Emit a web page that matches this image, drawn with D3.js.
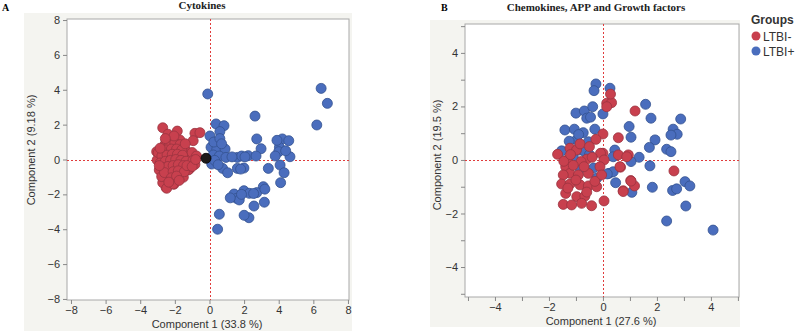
<!DOCTYPE html>
<html>
<head>
<meta charset="utf-8">
<script src="https://cdn.jsdelivr.net/npm/d3@7"></script>
<style>
  body { margin: 0; background: #fff; }
</style>
</head>
<body>
<div id="chart"></div>
<script>
// PCA scores, panel A (cytokines)
var redA = [[-2.7,1.82],[-1.86,1.63],[-0.84,1.5],[-0.55,1.54],[-0.94,1.08],[-1.71,1.12],[-2.28,1.21],
  [-2.51,1.02],[-3.05,0.45],[-3.02,-0.03],[-2.9,-0.6],[-2.67,-1.08],[-2.51,-1.6],[-2.05,-1.42],
  [-1.51,-1.02],[-1.17,-0.56],[-0.84,-0.28],[-1.09,0.13],[-1.36,0.51],[-2.32,-0.7],[-2.38,-1.02],
  [-2.7,-1.33],[-2.96,0.39],[-2.76,-0.98],[-2.47,-1.65],[-2.09,-1.4],[-1.23,-0.6],
  [-2.6,0.8],[-2.3,0.9],[-2.0,0.95],[-1.7,0.85],[-2.5,0.55],[-2.2,0.6],[-1.9,0.6],[-1.6,0.55],
  [-2.75,0.2],[-2.45,0.25],[-2.15,0.3],[-1.85,0.3],[-1.55,0.25],[-2.85,-0.2],[-2.55,-0.1],
  [-2.25,-0.05],[-1.95,0.0],[-1.65,-0.05],[-1.35,-0.1],[-2.7,-0.45],[-2.4,-0.4],[-2.1,-0.35],
  [-1.8,-0.3],[-1.5,-0.35],[-2.6,-0.75],[-2.1,-0.7],[-1.8,-0.65],[-1.45,-0.7],[-2.2,-1.05],
  [-1.9,-0.95],[-2.35,-1.3],[-1.75,-1.2],[-2.4,1.45],[-2.05,1.35],[-1.4,0.9],[-1.0,0.4],
  [-0.75,0.2],[-0.95,-0.05],[-2.85,0.65],[-2.9,-0.35],[-1.3,-0.35],[-1.0,-0.4],[-0.8,0.0],[-2.55,1.2]];
var blueA = [[-0.1,3.76],[6.45,4.08],[6.81,3.22],[6.2,1.98],[2.63,2.49],[0.38,2.04],[0.84,1.94],
  [0.6,1.6],[0.03,1.35],[2.73,1.18],[4.21,1.18],[4.58,1.08],[2.98,0.62],[4.04,0.7],[4.0,0.45],
  [4.65,0.16],[3.8,0.2],[0.09,0.7],[0.42,0.58],[0.9,0.6],[0.22,0.26],[0.57,0.2],[0.95,0.12],
  [1.61,0.12],[1.86,0.2],[2.24,0.22],[2.69,0.2],[0.13,-0.26],[0.76,-0.51],[1.05,-0.76],
  [1.61,-0.51],[1.99,-0.49],[3.4,-0.51],[4.08,-0.32],[4.31,-0.76],[4.11,-1.33],[3.11,-1.56],
  [1.42,-1.98],[1.57,-2.23],[1.99,-1.79],[2.3,-1.94],[2.73,-1.9],[1.72,-2.32],[2.57,-2.67],
  [3.17,-2.45],[0.57,-3.14],[2.28,-3.34],[0.47,-4.0],
  [0.25,1.0],[0.6,1.2],[0.3,-0.05],[0.7,0.9],[1.8,-0.55],[1.3,0.15],[2.05,0.15],[3.2,-1.7],
  [1.85,-2.0],[2.55,-1.95],[4.4,0.5],[3.9,1.1],[0.5,-0.3],[1.2,-2.2],[2.0,-3.2]];
var darkA = [[-0.2,0.07]];

// PCA scores, panel B (chemokines, APP, growth factors)
var redB = [[1.19,1.83],[0.57,0.83],[0.94,0.19],[0.57,0.19],[0.65,-0.27],[2.63,-0.41],[1.03,-0.77],
  [1.17,-0.97],[0.75,-1.15],[0.04,-1.53],[0,0.97],[0,0.25],[0.14,2.12],[0.32,2.14],[0.28,2.46],
  [0.14,1.99],[-0.26,0.77],[-1.22,0.44],[-1.68,0.21],[-0.98,0.37],[-0.09,0.25],[0.04,0],
  [-0.6,0.03],[-0.81,-0.06],[-1.32,0],[-1.38,-0.25],[-1.22,-0.5],[-1.47,-0.56],[-0.91,-0.56],
  [-0.54,-0.5],[-0.11,-0.25],[-0.05,-0.56],[0.88,0.12],[0.63,-0.25],[-1.53,-0.9],[-1.22,-0.9],
  [-0.85,-0.93],[-0.54,-0.97],[-0.23,-1.0],[-1.38,-1.25],[-0.97,-1.37],[-0.67,-1.35],
  [-1.47,-1.66],[-1.16,-1.68],[-0.79,-1.62],[-0.42,-1.71],[0.75,-1.18],[1.04,-0.79],
  [-1.1,-0.2],[-0.7,-0.25],[-0.4,0.1],[-1.0,-0.75],[-1.3,-1.05],[-0.3,-0.8],[-0.6,-1.2],
  [-1.45,-0.05],[-0.85,0.6],[-0.5,0.5],[-1.2,0.2]];
var blueB = [[-0.26,2.84],[-0.33,2.59],[0.26,2.68],[1.58,2.08],[1.78,1.56],[-1.0,1.75],[-0.69,1.83],
  [-0.38,1.99],[-0.6,1.56],[-0.46,1.6],[0,1.72],[-1.41,1.12],[-1.06,1.15],[-0.73,1.02],[-0.3,1.15],
  [0.97,1.25],[1.04,0.85],[1.93,0.75],[1.72,0.47],[2.36,0.4],[-1.53,0.34],[-0.97,0.75],
  [-0.54,0.68],[0.44,0.37],[0.38,0.12],[1.34,0.1],[1.04,-0.06],[1.74,-0.22],[0.23,-0.5],
  [-0.23,-0.68],[0.47,-0.85],[1.83,-1.02],[1.07,-1.21],[-0.85,0.37],[2.88,1.53],[2.6,1.15],
  [2.75,0.96],[2.52,0.93],[2.52,0.31],[0.38,-0.44],[0.16,-0.52],[2.58,-1.14],[2.73,-1.08],
  [3.04,-0.81],[3.22,-0.97],[3.07,-1.72],[2.36,-2.28],[4.08,-2.62],
  [-1.1,0.12],[-0.67,0.31],[-0.85,-0.31],[-1.25,0.7],[-0.9,0.95],[-0.5,0.2],[-0.35,-0.3]];

var ticksA = [-8, -6, -4, -2, 0, 2, 4, 6, 8];
var ticksB = [-4, -2, 0, 2, 4];
var minorB = [-5, -3, -1, 1, 3, 5];
var groups = ["LTBI-", "LTBI+"];

var colors = {red: "#c8404e", blue: "#4a6dbd", dark: "#1e1a1a"};
var strokes = {red: "#9a3440", blue: "#34528f", dark: "#000"};
var sans = "'Liberation Sans', Arial, sans-serif";
var serif = "'Liberation Serif', 'Times New Roman', serif";

var svg = d3.select("#chart").append("svg")
    .attr("width", 796)
    .attr("height", 331);

function panel(opt) {
  var g = svg.append("g");

  // gray JMP-style backdrop
  g.append("rect")
      .attr("x", opt.bg[0]).attr("y", opt.bg[1])
      .attr("width", opt.bg[2]).attr("height", opt.bg[3])
      .attr("fill", "#f4f4f0");

  var x = d3.scaleLinear().domain(opt.xd).range([opt.l, opt.r]);
  var y = d3.scaleLinear().domain(opt.yd).range([opt.b, opt.t]);

  g.append("rect")
      .attr("x", opt.l).attr("y", opt.t)
      .attr("width", opt.r - opt.l).attr("height", opt.b - opt.t)
      .attr("fill", "#fff")
      .attr("stroke", "#a8a8a8");

  var axes = g.append("g");
  axes.append("g")
      .attr("transform", "translate(0," + opt.b + ")")
      .call(d3.axisBottom(x).tickValues(opt.ticks).tickSize(4).tickPadding(2)
        .tickFormat(d3.format("d")));
  axes.append("g")
      .attr("transform", "translate(" + opt.l + ",0)")
      .call(d3.axisLeft(y).tickValues(opt.ticks).tickSize(4).tickPadding(3)
        .tickFormat(d3.format("d")));
  if (opt.minor) {
    axes.append("g")
        .attr("transform", "translate(0," + opt.b + ")")
        .call(d3.axisBottom(x).tickValues(opt.minor).tickSize(4).tickFormat(""));
    axes.append("g")
        .attr("transform", "translate(" + opt.l + ",0)")
        .call(d3.axisLeft(y).tickValues(opt.minor).tickSize(4).tickFormat(""));
  }
  axes.selectAll(".domain").remove();
  axes.selectAll(".tick line").attr("stroke", "#888");
  axes.selectAll(".tick text")
      .style("font-family", sans)
      .style("font-size", "11px")
      .attr("fill", "#333");

  // reference lines at zero
  var zx = Math.ceil(x(0)) + 0.5, zy = Math.round(y(0)) + 0.5;
  g.append("line")
      .attr("x1", zx).attr("x2", zx).attr("y1", opt.t).attr("y2", opt.b)
      .attr("stroke", "#e03c3c").attr("stroke-width", 1).attr("stroke-dasharray", "2,2");
  g.append("line")
      .attr("x1", opt.l).attr("x2", opt.r).attr("y1", zy).attr("y2", zy)
      .attr("stroke", "#e03c3c").attr("stroke-width", 1).attr("stroke-dasharray", "2,2");

  opt.series.forEach(function(s) {
    g.append("g").selectAll("circle").data(s.data).enter()
      .append("circle")
        .attr("cx", function(d) { return x(d[0]); })
        .attr("cy", function(d) { return y(d[1]); })
        .attr("r", 5)
        .attr("fill", colors[s.c])
        .attr("stroke", strokes[s.c])
        .attr("stroke-width", 0.8);
  });

  g.append("text")
      .attr("x", (opt.l + opt.r) / 2 - 1)
      .attr("y", opt.b + opt.xly)
      .attr("text-anchor", "middle")
      .style("font-family", sans)
      .style("font-size", "11px")
      .attr("fill", "#333")
      .text(opt.xlab);

  g.append("text")
      .attr("transform", "translate(" + opt.ylx + "," + opt.yly + ") rotate(-90)")
      .attr("text-anchor", "middle")
      .style("font-family", sans)
      .style("font-size", "11px")
      .attr("fill", "#333")
      .text(opt.ylab);

  g.append("text")
      .attr("x", opt.letter[0]).attr("y", opt.letter[1])
      .style("font-family", serif)
      .style("font-weight", "bold")
      .style("font-size", "10px")
      .text(opt.letter[2]);

  g.append("text")
      .attr("x", opt.title[0]).attr("y", opt.title[1])
      .attr("text-anchor", "middle")
      .style("font-family", serif)
      .style("font-weight", "bold")
      .style("font-size", "11px")
      .attr("fill", "#222")
      .text(opt.title[2]);
}

panel({
  bg: [24, 13, 328, 318],
  l: 67, r: 349, t: 19, b: 300,
  xd: [-8.23, 8.06], yd: [-8.06, 8.06],
  ticks: ticksA,
  series: [{data: redA, c: "red"}, {data: blueA, c: "blue"}, {data: darkA, c: "dark"}],
  xlab: "Component 1  (33.8 %)", xly: 28,
  ylab: "Component 2  (9.18 %)", ylx: 35, yly: 150,
  letter: [2, 11, "A"],
  title: [202, 9, "Cytokines"]
});

panel({
  bg: [430, 20, 310, 307],
  l: 465, r: 739, t: 24, b: 297,
  xd: [-5.11, 5.04], yd: [-5.12, 5.08],
  ticks: ticksB, minor: minorB,
  series: [{data: blueB, c: "blue"}, {data: redB, c: "red"}],
  xlab: "Component 1  (27.6 %)", xly: 28,
  ylab: "Component 2  (19.5 %)", ylx: 441, yly: 155,
  letter: [441, 11, "B"],
  title: [596, 11, "Chemokines, APP and Growth factors"]
});

// legend
var legend = svg.append("g").attr("transform", "translate(751,0)");
legend.append("text")
    .attr("x", 0).attr("y", 24)
    .style("font-family", sans)
    .style("font-weight", "bold")
    .style("font-size", "12px")
    .attr("fill", "#333")
    .text("Groups");
var item = legend.selectAll("g.item").data(groups).enter()
  .append("g")
    .attr("class", "item")
    .attr("transform", function(d, i) { return "translate(0," + (36 + 15 * i) + ")"; });
item.append("circle")
    .attr("cx", 5).attr("cy", 0).attr("r", 4.5)
    .attr("fill", function(d, i) { return i == 0 ? colors.red : colors.blue; });
item.append("text")
    .attr("x", 12).attr("y", 4.5)
    .style("font-family", sans)
    .style("font-size", "12px")
    .attr("fill", "#333")
    .text(function(d) { return d; });
</script>
</body>
</html>
